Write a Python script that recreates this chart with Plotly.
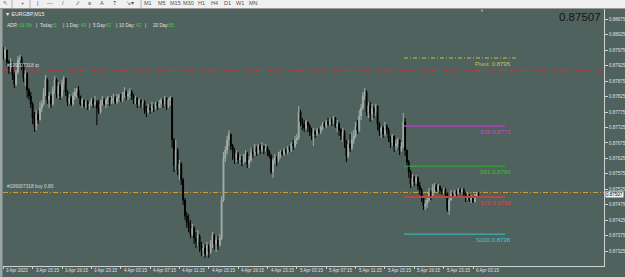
import plotly.graph_objects as go

# ---------------- data ----------------
symbol_title = "\u25bc EURGBP,M15"
bid_price = 0.87507
first_open = 0.87969

close = [
    0.87950, 0.87976, 0.87937, 0.87918, 0.87931, 0.87895, 0.87866, 0.87905, 0.87944, 0.87950,
    0.87924, 0.87885, 0.87898, 0.87846, 0.87827, 0.87801, 0.87756, 0.87730, 0.87769, 0.87749,
    0.87788, 0.87801, 0.87840, 0.87879, 0.87814, 0.87827, 0.87801, 0.87846, 0.87879, 0.87834,
    0.87859, 0.87827, 0.87866, 0.87885, 0.87840, 0.87808, 0.87821, 0.87801, 0.87827, 0.87840,
    0.87846, 0.87827, 0.87801, 0.87814, 0.87795, 0.87808, 0.87795, 0.87801, 0.87814, 0.87801,
    0.87808, 0.87788, 0.87775, 0.87801, 0.87814, 0.87801, 0.87814, 0.87821, 0.87808, 0.87814,
    0.87821, 0.87808, 0.87821, 0.87827, 0.87814, 0.87827, 0.87840, 0.87827, 0.87834, 0.87840,
    0.87827, 0.87814, 0.87821, 0.87801, 0.87814, 0.87801, 0.87808, 0.87782, 0.87775, 0.87788,
    0.87782, 0.87795, 0.87788, 0.87801, 0.87795, 0.87801, 0.87814, 0.87801, 0.87821, 0.87795,
    0.87814, 0.87821, 0.87685, 0.87604, 0.87652, 0.87588, 0.87607, 0.87555, 0.87490, 0.87439,
    0.87419, 0.87406, 0.87380, 0.87400, 0.87367, 0.87355, 0.87374, 0.87342, 0.87329, 0.87335,
    0.87316, 0.87342, 0.87322, 0.87348, 0.87374, 0.87348, 0.87361, 0.87342, 0.87367, 0.87490,
    0.87626, 0.87652, 0.87685, 0.87704, 0.87665, 0.87652, 0.87626, 0.87639, 0.87620, 0.87626,
    0.87613, 0.87626, 0.87639, 0.87607, 0.87620, 0.87646, 0.87639, 0.87659, 0.87646, 0.87665,
    0.87652, 0.87665, 0.87652, 0.87659, 0.87646, 0.87633, 0.87581, 0.87620, 0.87626, 0.87620,
    0.87633, 0.87646, 0.87639, 0.87652, 0.87646, 0.87659, 0.87652, 0.87672, 0.87665, 0.87685,
    0.87691, 0.87775, 0.87743, 0.87736, 0.87724, 0.87743, 0.87730, 0.87711, 0.87698, 0.87711,
    0.87704, 0.87717, 0.87711, 0.87724, 0.87736, 0.87730, 0.87743, 0.87736, 0.87749, 0.87743,
    0.87756, 0.87730, 0.87736, 0.87717, 0.87698, 0.87711, 0.87678, 0.87633, 0.87672, 0.87659,
    0.87685, 0.87698, 0.87730, 0.87717, 0.87762, 0.87788, 0.87827, 0.87840, 0.87775, 0.87795,
    0.87769, 0.87788, 0.87775, 0.87795, 0.87736, 0.87711, 0.87724, 0.87704, 0.87730, 0.87717,
    0.87691, 0.87678, 0.87698, 0.87665, 0.87672, 0.87685, 0.87652, 0.87665, 0.87743, 0.87652,
    0.87613, 0.87581, 0.87542, 0.87562, 0.87549, 0.87562, 0.87536, 0.87523, 0.87497, 0.87471,
    0.87478, 0.87490, 0.87516, 0.87503, 0.87529, 0.87536, 0.87523, 0.87536, 0.87523, 0.87516,
    0.87523, 0.87510, 0.87458, 0.87490, 0.87510, 0.87503, 0.87516, 0.87510, 0.87523, 0.87516,
    0.87523, 0.87510, 0.87497, 0.87503, 0.87490, 0.87497, 0.87484, 0.87503, 0.87510, 0.87507,
]

high = [
    0.87986, 0.87986, 0.87976, 0.87944, 0.87950, 0.87937, 0.87905, 0.87911, 0.87956, 0.87960,
    0.87956, 0.87931, 0.87911, 0.87905, 0.87853, 0.87840, 0.87808, 0.87775, 0.87782, 0.87782,
    0.87808, 0.87814, 0.87853, 0.87895, 0.87885, 0.87840, 0.87834, 0.87859, 0.87892, 0.87885,
    0.87872, 0.87866, 0.87879, 0.87892, 0.87885, 0.87846, 0.87834, 0.87827, 0.87840, 0.87853,
    0.87853, 0.87859, 0.87827, 0.87821, 0.87814, 0.87814, 0.87814, 0.87808, 0.87821, 0.87821,
    0.87827, 0.87814, 0.87814, 0.87814, 0.87827, 0.87821, 0.87821, 0.87827, 0.87821, 0.87827,
    0.87834, 0.87827, 0.87834, 0.87834, 0.87834, 0.87840, 0.87856, 0.87846, 0.87846, 0.87853,
    0.87846, 0.87834, 0.87827, 0.87821, 0.87821, 0.87814, 0.87814, 0.87814, 0.87795, 0.87801,
    0.87801, 0.87808, 0.87801, 0.87808, 0.87808, 0.87814, 0.87821, 0.87821, 0.87827, 0.87821,
    0.87821, 0.87827, 0.87821, 0.87691, 0.87685, 0.87659, 0.87620, 0.87613, 0.87562, 0.87497,
    0.87452, 0.87445, 0.87426, 0.87413, 0.87406, 0.87387, 0.87393, 0.87380, 0.87355, 0.87348,
    0.87348, 0.87355, 0.87348, 0.87361, 0.87387, 0.87380, 0.87374, 0.87374, 0.87380, 0.87503,
    0.87646, 0.87665, 0.87698, 0.87717, 0.87704, 0.87672, 0.87659, 0.87652, 0.87646, 0.87639,
    0.87633, 0.87639, 0.87652, 0.87646, 0.87633, 0.87659, 0.87659, 0.87672, 0.87665, 0.87672,
    0.87672, 0.87678, 0.87665, 0.87672, 0.87665, 0.87652, 0.87639, 0.87626, 0.87639, 0.87633,
    0.87646, 0.87652, 0.87652, 0.87659, 0.87659, 0.87665, 0.87665, 0.87678, 0.87685, 0.87698,
    0.87704, 0.87795, 0.87782, 0.87756, 0.87749, 0.87749, 0.87743, 0.87736, 0.87724, 0.87724,
    0.87717, 0.87724, 0.87724, 0.87730, 0.87743, 0.87743, 0.87749, 0.87756, 0.87756, 0.87756,
    0.87762, 0.87759, 0.87749, 0.87743, 0.87724, 0.87724, 0.87717, 0.87685, 0.87685, 0.87704,
    0.87711, 0.87717, 0.87743, 0.87749, 0.87782, 0.87801, 0.87840, 0.87853, 0.87846, 0.87808,
    0.87808, 0.87801, 0.87795, 0.87801, 0.87795, 0.87743, 0.87730, 0.87730, 0.87743, 0.87736,
    0.87724, 0.87698, 0.87704, 0.87698, 0.87685, 0.87691, 0.87685, 0.87678, 0.87772, 0.87756,
    0.87652, 0.87620, 0.87588, 0.87575, 0.87568, 0.87571, 0.87568, 0.87549, 0.87529, 0.87503,
    0.87490, 0.87497, 0.87529, 0.87523, 0.87542, 0.87545, 0.87542, 0.87542, 0.87536, 0.87529,
    0.87529, 0.87529, 0.87516, 0.87497, 0.87523, 0.87516, 0.87523, 0.87523, 0.87529, 0.87529,
    0.87529, 0.87529, 0.87516, 0.87516, 0.87510, 0.87507, 0.87503, 0.87510, 0.87516, 0.87516,
]

low = [
    0.87944, 0.87944, 0.87924, 0.87898, 0.87905, 0.87879, 0.87853, 0.87859, 0.87898, 0.87931,
    0.87911, 0.87872, 0.87859, 0.87821, 0.87814, 0.87788, 0.87736, 0.87711, 0.87717, 0.87736,
    0.87749, 0.87775, 0.87795, 0.87827, 0.87801, 0.87788, 0.87788, 0.87795, 0.87834, 0.87821,
    0.87821, 0.87814, 0.87821, 0.87846, 0.87827, 0.87795, 0.87801, 0.87795, 0.87795, 0.87814,
    0.87821, 0.87821, 0.87795, 0.87788, 0.87788, 0.87788, 0.87782, 0.87782, 0.87795, 0.87788,
    0.87795, 0.87733, 0.87769, 0.87769, 0.87795, 0.87795, 0.87788, 0.87801, 0.87795, 0.87801,
    0.87801, 0.87801, 0.87801, 0.87808, 0.87808, 0.87808, 0.87821, 0.87814, 0.87814, 0.87821,
    0.87814, 0.87801, 0.87801, 0.87788, 0.87795, 0.87788, 0.87788, 0.87769, 0.87759, 0.87769,
    0.87769, 0.87775, 0.87775, 0.87782, 0.87782, 0.87788, 0.87788, 0.87788, 0.87795, 0.87782,
    0.87788, 0.87795, 0.87659, 0.87581, 0.87588, 0.87571, 0.87555, 0.87539, 0.87474, 0.87426,
    0.87400, 0.87387, 0.87367, 0.87374, 0.87348, 0.87335, 0.87342, 0.87322, 0.87309, 0.87309,
    0.87303, 0.87309, 0.87303, 0.87316, 0.87335, 0.87329, 0.87322, 0.87329, 0.87342, 0.87361,
    0.87484, 0.87613, 0.87639, 0.87665, 0.87652, 0.87620, 0.87607, 0.87613, 0.87607, 0.87607,
    0.87600, 0.87607, 0.87613, 0.87594, 0.87594, 0.87613, 0.87626, 0.87633, 0.87633, 0.87639,
    0.87639, 0.87646, 0.87639, 0.87646, 0.87633, 0.87626, 0.87575, 0.87562, 0.87607, 0.87600,
    0.87613, 0.87626, 0.87633, 0.87633, 0.87639, 0.87639, 0.87646, 0.87646, 0.87652, 0.87659,
    0.87672, 0.87685, 0.87730, 0.87717, 0.87711, 0.87717, 0.87711, 0.87698, 0.87685, 0.87665,
    0.87691, 0.87698, 0.87704, 0.87704, 0.87717, 0.87724, 0.87724, 0.87730, 0.87730, 0.87730,
    0.87736, 0.87724, 0.87711, 0.87698, 0.87685, 0.87678, 0.87659, 0.87613, 0.87626, 0.87646,
    0.87652, 0.87672, 0.87691, 0.87704, 0.87711, 0.87749, 0.87782, 0.87814, 0.87762, 0.87756,
    0.87743, 0.87749, 0.87756, 0.87762, 0.87717, 0.87698, 0.87691, 0.87691, 0.87698, 0.87704,
    0.87678, 0.87659, 0.87665, 0.87646, 0.87652, 0.87659, 0.87636, 0.87646, 0.87659, 0.87633,
    0.87600, 0.87562, 0.87529, 0.87536, 0.87536, 0.87542, 0.87523, 0.87507, 0.87484, 0.87458,
    0.87458, 0.87465, 0.87484, 0.87490, 0.87503, 0.87516, 0.87516, 0.87516, 0.87510, 0.87507,
    0.87510, 0.87503, 0.87452, 0.87442, 0.87490, 0.87497, 0.87497, 0.87503, 0.87510, 0.87510,
    0.87510, 0.87503, 0.87484, 0.87490, 0.87484, 0.87481, 0.87481, 0.87484, 0.87497, 0.87500,
]

time_labels = ["3 Apr 2023", "3 Apr 15:15", "3 Apr 19:15", "3 Apr 23:15", "4 Apr 03:15",
               "4 Apr 07:15", "4 Apr 11:15", "4 Apr 15:15", "4 Apr 19:15", "4 Apr 23:15",
               "5 Apr 03:15", "5 Apr 07:15", "5 Apr 11:15", "5 Apr 15:15", "5 Apr 19:15",
               "5 Apr 23:15", "6 Apr 03:15"]
bars_per_label = 16

price_labels = ["0.88075", "0.88025", "0.87975", "0.87925", "0.87875", "0.87825",
                "0.87775", "0.87725", "0.87675", "0.87625", "0.87575", "0.87525",
                "0.87475", "0.87425", "0.87375", "0.87325", "0.87275"]

level_names = ["Pivot:", "S38", "S61", "S78", "S100"]
level_values = [0.8795, 0.8773, 0.8760, 0.8750, 0.8738]

ticket = "#199007318"
order_price = 0.87515
order_lots = "0.80"
tp_price = 0.87909

adr_labels = ["ADR:", "Today:", "1 Day:", "5 Day:", "10 Day:", "20 Day:"]
adr_values = ["19.0%", "5", "40", "42", "42", "55"]

# ---------------- geometry / style ----------------
W, H = 625, 277
L, R, T, B = 3, 21, 9, 11
PW, PH = W - L - R, H - T - B
BG = "#4f625e"
FONT = "Liberation Sans, Arial, sans-serif"
X_RANGE = [-0.16, 327.4]
Y_RANGE = [0.872769, 0.881086]


def px(x):
    return (x - L) / PW


def py(y):
    return 1 - (y - T) / PH


n = len(close)
opens = [first_open] + close[:-1]
xs = list(range(n))
tick_idx = [i * bars_per_label for i in range(len(time_labels))]

fig = go.Figure()
fig.add_trace(go.Candlestick(
    x=xs, open=opens, high=high, low=low, close=close,
    increasing=dict(line=dict(color="#a3adaa", width=1), fillcolor="#a3adaa"),
    decreasing=dict(line=dict(color="#000000", width=1), fillcolor="#000000"),
    whiskerwidth=0, hoverinfo="skip", showlegend=False,
))

shapes = []
annotations = []

# toolbar strip
shapes.append(dict(type="rect", xref="paper", yref="paper", x0=px(0), x1=px(W),
                   y0=py(T), y1=py(-2), fillcolor="#f0f0f0", line=dict(width=0), layer="above"))
shapes.append(dict(type="line", xref="paper", yref="paper", x0=px(0), x1=px(W),
                   y0=py(T - 0.5), y1=py(T - 0.5), line=dict(color="#9a9a9a", width=1), layer="above"))
# left frame strip
shapes.append(dict(type="rect", xref="paper", yref="paper", x0=px(0), x1=px(2.5),
                   y0=py(H), y1=py(T), fillcolor="#9aa4a1", line=dict(width=0), layer="above"))

# order and take-profit lines
shapes.append(dict(type="line", xref="paper", yref="y", x0=0, x1=1, y0=tp_price, y1=tp_price,
                   line=dict(color="#c83a3a", width=1, dash="4px,3px,1px,3px"), layer="below"))
shapes.append(dict(type="line", xref="paper", yref="y", x0=0, x1=1, y0=order_price, y1=order_price,
                   line=dict(color="#d6a22e", width=1, dash="5px,2px,1px,2px"), layer="below"))

# pivot levels
level_styles = [
    dict(color="#c3c34a", width=1, dash="4px,2px,1px,2px"),
    dict(color="#b03fc0", width=1.6, dash="solid"),
    dict(color="#34b234", width=1, dash="solid"),
    dict(color="#b84646", width=2, dash="solid"),
    dict(color="#36c4c8", width=1, dash="solid"),
]
label_colors = ["#c8c84a", "#c04ad0", "#3cc03c", "#e04040", "#3cccd0"]
level_x0 = 218.4
level_x1 = [279.9, 273.4, 273.4, 273.4, 273.4]
for name, val, st, lc, x1 in zip(level_names, level_values, level_styles, label_colors, level_x1):
    shapes.append(dict(type="line", xref="x", yref="y", x0=level_x0, x1=x1, y0=val, y1=val,
                       line=st, layer="above"))
    annotations.append(dict(xref="paper", yref="y", x=px(513), y=val, yshift=-1,
                            xanchor="right", yanchor="top", showarrow=False,
                            text=f"{name} {val:.4f}", font=dict(family=FONT, size=6, color=lc)))

# line labels
annotations.append(dict(xref="paper", yref="y", x=px(5), y=order_price, yshift=1,
                        xanchor="left", yanchor="bottom", showarrow=False,
                        text=f"{ticket} buy {order_lots}", font=dict(family=FONT, size=4.8, color="#d8d8d8")))
annotations.append(dict(xref="paper", yref="y", x=px(5), y=tp_price, yshift=1,
                        xanchor="left", yanchor="bottom", showarrow=False,
                        text=f"{ticket} tp", font=dict(family=FONT, size=4.8, color="#d8d8d8")))

# title and ADR info
annotations.append(dict(xref="paper", yref="paper", x=px(3), y=py(13.5), xanchor="left", yanchor="middle",
                        showarrow=False, text=symbol_title, font=dict(family=FONT, size=5.2, color="#ececec")))
adr_lab_x = [5, 38, 64, 91, 117, 151]
adr_val_x = [17, 52, 79, 104, 134, 167]
sep_x = [34, 61, 87, 114, 143]
for lab, val, lx, vx in zip(adr_labels, adr_values, adr_lab_x, adr_val_x):
    annotations.append(dict(xref="paper", yref="paper", x=px(lx), y=py(26), xanchor="left", yanchor="middle",
                            showarrow=False, text=lab, font=dict(family=FONT, size=4.6, color="#e0e0e0")))
    annotations.append(dict(xref="paper", yref="paper", x=px(vx), y=py(26), xanchor="left", yanchor="middle",
                            showarrow=False, text=val, font=dict(family=FONT, size=4.6, color="#3ed23e")))
for sx in sep_x:
    annotations.append(dict(xref="paper", yref="paper", x=px(sx), y=py(26), xanchor="left", yanchor="middle",
                            showarrow=False, text="|", font=dict(family=FONT, size=4.6, color="#e0e0e0")))

# big bid price
annotations.append(dict(xref="paper", yref="paper", x=px(603), y=py(16.5), xanchor="right", yanchor="middle",
                        showarrow=False, text=f"{bid_price:.5f}", font=dict(family=FONT, size=11.5, color="#151515")))
# bid label on axis
annotations.append(dict(xref="paper", yref="y", x=px(605), y=bid_price, yshift=0, xanchor="left", yanchor="middle",
                        showarrow=False, text=f"{bid_price:.5f}", bgcolor="#f2f2f2", borderpad=0,
                        font=dict(family=FONT, size=4.5, color="#000000")))
# chart shift marker
annotations.append(dict(xref="paper", yref="paper", x=px(482), y=py(10.5), xanchor="center", yanchor="middle",
                        showarrow=False, text="\u25bc", font=dict(family=FONT, size=4, color="#b8c0be")))

# time axis labels (left-aligned at their tick, MT4 style)
for idx, lab in zip(tick_idx, time_labels):
    annotations.append(dict(xref="x", yref="paper", x=idx, xshift=1, y=py(270.5), xanchor="left",
                            yanchor="middle", showarrow=False, text=lab,
                            font=dict(family=FONT, size=4.5, color="#e0e0e0")))

# toolbar glyphs (cut at top edge like the screenshot)
tool_items = [("\u2196", 5), ("+", 22), ("|", 37), ("\u2014", 50), ("/", 63), ("\u2215\u2215", 77),
              ("\u2261", 89), ("A", 102), ("T", 115), ("\u2198\u25be", 130),
              ("M1", 148), ("M5", 162), ("M15", 175), ("M30", 188), ("H1", 201),
              ("H4", 214), ("D1", 227), ("W1", 240), ("MN", 253)]
for txt, tx in tool_items:
    annotations.append(dict(xref="paper", yref="paper", x=px(tx), y=py(2.5), xanchor="center", yanchor="middle",
                            showarrow=False, text=txt, font=dict(family=FONT, size=5.5, color="#505050")))
for sx in [12, 30, 141]:
    shapes.append(dict(type="line", xref="paper", yref="paper", x0=px(sx), x1=px(sx), y0=py(8), y1=py(0),
                       line=dict(color="#b0b0b0", width=1), layer="above"))

fig.update_layout(
    width=W, height=H,
    margin=dict(l=L, r=R, t=T, b=B, pad=0),
    paper_bgcolor=BG, plot_bgcolor=BG,
    showlegend=False,
    shapes=shapes, annotations=annotations,
    xaxis=dict(
        range=X_RANGE, showgrid=False, zeroline=False, rangeslider=dict(visible=False),
        showline=True, linecolor="#cfd3d2", linewidth=1, mirror=False,
        ticks="outside", ticklen=2, tickcolor="#cfd3d2", tickwidth=1,
        tickvals=tick_idx, showticklabels=False,
        automargin=False, fixedrange=True,
    ),
    yaxis=dict(
        range=Y_RANGE, side="right", showgrid=False, zeroline=False,
        showline=True, linecolor="#cfd3d2", linewidth=1,
        ticks="outside", ticklen=3, tickcolor="#cfd3d2", tickwidth=1,
        tickvals=[float(s) for s in price_labels], ticktext=price_labels,
        tickfont=dict(family=FONT, size=4.5, color="#e0e0e0"),
        automargin=False, fixedrange=True,
    ),
)

fig.write_html("out.html", config=dict(displayModeBar=False))
